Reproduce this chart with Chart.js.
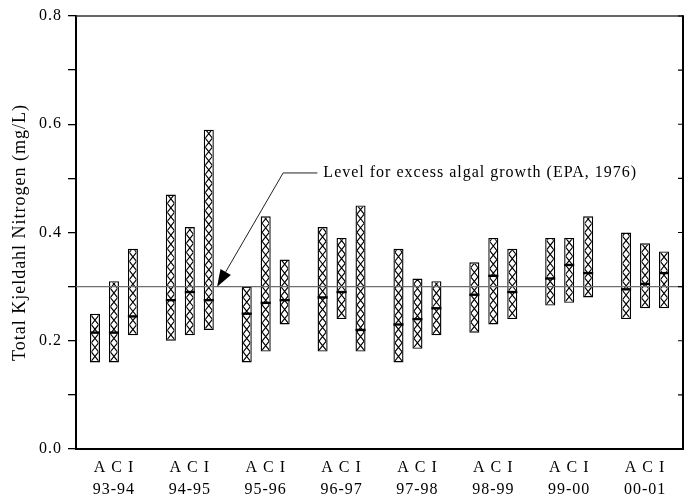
<!DOCTYPE html>
<html>
<head>
<meta charset="utf-8">
<script src="https://cdn.jsdelivr.net/npm/chart.js@4.4.0/dist/chart.umd.min.js"></script>
<style>
html,body{margin:0;padding:0;background:#fff;}
#wrap{width:691px;height:499px;position:relative;}
</style>
</head>
<body>
<div id="wrap"><canvas id="c"></canvas></div>
<script>
// ---- data ----
const years = ['93-94','94-95','95-96','96-97','97-98','98-99','99-00','00-01'];
const siteLabel = 'A C I';
const yTickLabels = ['0.0','','0.2','','0.4','','0.6','','0.8'];
const yTitle = 'Total Kjeldahl Nitrogen (mg/L)';
const thresholdValue = 0.3;
const thresholdLabel = 'Level for excess algal growth (EPA, 1976)';

const A_min = [0.16, 0.20, 0.16, 0.18, 0.16, 0.215, 0.265, 0.24];
const A_max = [0.25, 0.47, 0.30, 0.41, 0.37, 0.345, 0.39, 0.40];
const A_med = [0.215, 0.275, 0.25, 0.28, 0.23, 0.285, 0.315, 0.295];

const C_min = [0.16, 0.21, 0.18, 0.24, 0.185, 0.23, 0.27, 0.26];
const C_max = [0.31, 0.41, 0.43, 0.39, 0.315, 0.39, 0.39, 0.38];
const C_med = [0.215, 0.29, 0.27, 0.29, 0.24, 0.32, 0.34, 0.305];

const I_min = [0.21, 0.22, 0.23, 0.18, 0.21, 0.24, 0.28, 0.26];
const I_max = [0.37, 0.59, 0.35, 0.45, 0.31, 0.37, 0.43, 0.365];
const I_med = [0.245, 0.275, 0.275, 0.22, 0.26, 0.29, 0.325, 0.325];

// annotation anchor in data units (category index, value)
const arrowTip = [1.36, thresholdValue];
const arrowElbow = [2.23, 0.51];
const labelStart = [2.76, 0.51];

// ---- helpers ----
const FONT = "'Liberation Serif', 'Times New Roman', serif";
const ranges = (mins, maxs) => mins.map((v, i) => [v, maxs[i]]);
const medBars = meds => meds.map(m => [m - 0.0022, m + 0.0022]);

Chart.defaults.font.family = FONT;
Chart.defaults.color = '#000';

const spacingPlugin = {
  id: 'spacing',
  beforeInit(c) { c.ctx.letterSpacing = '1px'; },
  beforeUpdate(c) { c.ctx.letterSpacing = '1px'; },
  beforeDraw(c) { c.ctx.letterSpacing = '1px'; }
};

const hatchPlugin = {
  id: 'hatch',
  afterDatasetDraw(chart, args) {
    const ds = chart.data.datasets[args.index];
    if (!ds.hatch) return;
    const ctx = chart.ctx;
    const bw = ds.borderWidth;
    args.meta.data.forEach(el => {
      const p = el.getProps(['x', 'y', 'base', 'width'], true);
      const l = p.x - p.width / 2 + bw, r = p.x + p.width / 2 - bw;
      const t = Math.min(p.y, p.base) + bw, b = Math.max(p.y, p.base) - bw;
      const w = r - l;
      const step = w * 1.25;
      ctx.save();
      ctx.beginPath();
      ctx.rect(l, t, r - l, b - t);
      ctx.clip();
      ctx.beginPath();
      for (let yy = b; yy > t - step; yy -= step) {
        ctx.moveTo(l, yy); ctx.lineTo(r, yy - step);
        ctx.moveTo(r, yy); ctx.lineTo(l, yy - step);
      }
      ctx.lineWidth = 1.15;
      ctx.strokeStyle = '#000';
      ctx.stroke();
      ctx.restore();
    });
  }
};

const framePlugin = {
  id: 'frame',
  afterDatasetsDraw(chart) {
    const {ctx, chartArea: a, scales: {x, y}} = chart;
    ctx.save();
    // threshold line
    const ty = y.getPixelForValue(thresholdValue);
    ctx.beginPath();
    ctx.moveTo(a.left, ty); ctx.lineTo(a.right, ty);
    ctx.lineWidth = 1.3; ctx.strokeStyle = '#6e6e6e'; ctx.stroke();
    // top border
    ctx.beginPath();
    ctx.moveTo(a.left, a.top); ctx.lineTo(a.right, a.top);
    ctx.lineWidth = 1.5; ctx.strokeStyle = '#333'; ctx.stroke();
    // right border with inward ticks
    ctx.beginPath();
    ctx.moveTo(a.right, a.top - 0.75); ctx.lineTo(a.right, a.bottom + 1);
    ctx.lineWidth = 2; ctx.strokeStyle = '#000'; ctx.stroke();
    ctx.beginPath();
    y.ticks.forEach(t => {
      const py = y.getPixelForValue(t.value);
      ctx.moveTo(a.right, py); ctx.lineTo(a.right - 5, py);
    });
    ctx.lineWidth = 1.2; ctx.stroke();
    // annotation
    const tx = x.getPixelForValue(arrowTip[0]), tyy = y.getPixelForValue(arrowTip[1]);
    const ex = x.getPixelForValue(arrowElbow[0]), ey = y.getPixelForValue(arrowElbow[1]);
    const lx = x.getPixelForValue(labelStart[0]);
    const dx = tx - ex, dy = tyy - ey, len = Math.hypot(dx, dy);
    const ux = dx / len, uy = dy / len;
    const hl = 17, hw = 6;
    const bx = tx - ux * hl, by = tyy - uy * hl;
    ctx.beginPath();
    ctx.moveTo(lx - 6, ey); ctx.lineTo(ex, ey); ctx.lineTo(bx, by);
    ctx.lineWidth = 1; ctx.strokeStyle = '#222'; ctx.stroke();
    ctx.beginPath();
    ctx.moveTo(tx, tyy);
    ctx.lineTo(bx - uy * hw, by + ux * hw);
    ctx.lineTo(bx + uy * hw, by - ux * hw);
    ctx.closePath();
    ctx.fillStyle = '#000'; ctx.fill();
    ctx.letterSpacing = '1px';
    ctx.font = "16px " + FONT;
    ctx.textBaseline = 'middle';
    ctx.textAlign = 'left';
    ctx.fillStyle = '#000';
    ctx.fillText(thresholdLabel, lx, ey);
    ctx.restore();
  }
};

const common = { borderSkipped: false, categoryPercentage: 0.75, barPercentage: 0.53 };
const medStyle = { backgroundColor: '#000', borderWidth: 0, ...common };
const rangeStyle = { backgroundColor: '#fff', borderColor: '#000', borderWidth: 1.4, hatch: true, ...common };

new Chart(document.getElementById('c'), {
  type: 'bar',
  data: {
    labels: years.map(yr => [siteLabel, yr]),
    datasets: [
      { label: 'A median', data: medBars(A_med), stack: 'A', ...medStyle },
      { label: 'C median', data: medBars(C_med), stack: 'C', ...medStyle },
      { label: 'I median', data: medBars(I_med), stack: 'I', ...medStyle },
      { label: 'A', data: ranges(A_min, A_max), stack: 'A', ...rangeStyle },
      { label: 'C', data: ranges(C_min, C_max), stack: 'C', ...rangeStyle },
      { label: 'I', data: ranges(I_min, I_max), stack: 'I', ...rangeStyle }
    ]
  },
  options: {
    responsive: true,
    maintainAspectRatio: false,
    animation: false,
    layout: { padding: { top: 16, right: 8, left: 0, bottom: 0 } },
    plugins: { legend: { display: false }, tooltip: { enabled: false } },
    scales: {
      x: {
        stacked: true,
        grid: { display: false, drawTicks: true, tickLength: 8 },
        border: { display: true, width: 2, color: '#000' },
        ticks: { font: { size: 16, lineHeight: 1.35 }, color: '#000', padding: 0, maxRotation: 0, autoSkip: false },
        afterFit(s) { s.height = 50; }
      },
      y: {
        stacked: false,
        min: 0, max: 0.8,
        ticks: { stepSize: 0.1, font: { size: 16 }, color: '#000', padding: 6,
                 callback: (v, i) => yTickLabels[i] },
        grid: { display: true, drawOnChartArea: false, drawTicks: true, tickLength: 8, color: '#000', lineWidth: 1.3 },
        border: { display: true, width: 2, color: '#000' },
        title: { display: true, text: yTitle, font: { size: 18 }, color: '#000', padding: { top: 9, bottom: 0 } },
        afterFit(s) { s.width = 76; }
      }
    }
  },
  plugins: [spacingPlugin, hatchPlugin, framePlugin]
});
</script>
</body>
</html>
